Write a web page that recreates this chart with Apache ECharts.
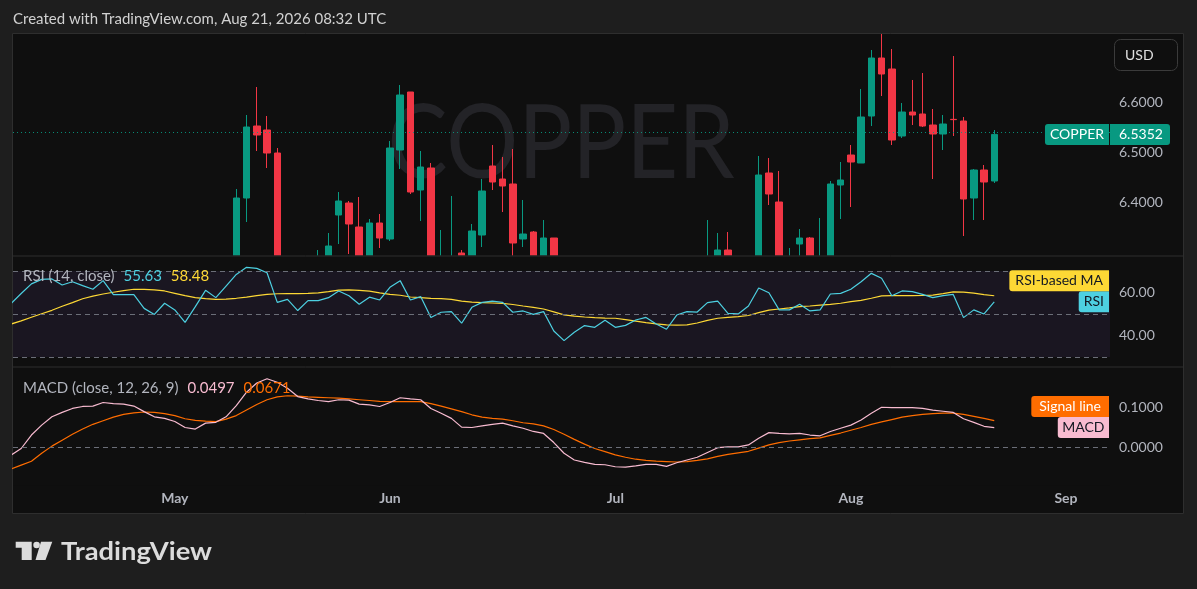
<!DOCTYPE html>
<html><head><meta charset="utf-8">
<script src="https://cdn.jsdelivr.net/npm/echarts@6.0.0/dist/echarts.min.js"></script>
<style>html,body{margin:0;padding:0;background:#1e1e1e;}#c{width:1197px;height:589px;}</style>
</head><body><div id="c"></div><script>
// ---------- data ----------
const symbolName = 'COPPER';
const currency = 'USD';
const headerText = 'Created with TradingView.com, Aug 21, 2026 08:32 UTC';
const dates = [
'2026-04-09','2026-04-10','2026-04-13','2026-04-14','2026-04-15','2026-04-16','2026-04-17','2026-04-20','2026-04-21','2026-04-22','2026-04-23','2026-04-24','2026-04-27','2026-04-28','2026-04-29','2026-04-30',
'2026-05-01','2026-05-04','2026-05-05','2026-05-06','2026-05-07','2026-05-08','2026-05-11','2026-05-12','2026-05-13','2026-05-14','2026-05-15','2026-05-18','2026-05-19','2026-05-20','2026-05-21','2026-05-22','2026-05-25','2026-05-26','2026-05-27','2026-05-28','2026-05-29',
'2026-06-01','2026-06-02','2026-06-03','2026-06-04','2026-06-05','2026-06-08','2026-06-09','2026-06-10','2026-06-11','2026-06-12','2026-06-15','2026-06-16','2026-06-17','2026-06-18','2026-06-19','2026-06-22','2026-06-23','2026-06-24','2026-06-25','2026-06-26','2026-06-29','2026-06-30',
'2026-07-01','2026-07-02','2026-07-03','2026-07-06','2026-07-07','2026-07-08','2026-07-09','2026-07-10','2026-07-13','2026-07-14','2026-07-15','2026-07-16','2026-07-17','2026-07-20','2026-07-21','2026-07-22','2026-07-23','2026-07-24','2026-07-27','2026-07-28','2026-07-29','2026-07-30','2026-07-31',
'2026-08-03','2026-08-04','2026-08-05','2026-08-06','2026-08-07','2026-08-10','2026-08-11','2026-08-12','2026-08-13','2026-08-14','2026-08-17','2026-08-18','2026-08-19','2026-08-20','2026-08-21','2026-08-24','2026-08-25','2026-08-26','2026-08-27','2026-08-28','2026-08-31',
'2026-09-01','2026-09-02','2026-09-03','2026-09-04','2026-09-07'
];
// [open, close, low, high]
const candles = [
[6.02,6.06,5.99,6.08],[6.06,6.12,6.04,6.14],[6.12,6.18,6.10,6.20],[6.18,6.21,6.15,6.23],[6.21,6.22,6.18,6.25],
[6.22,6.19,6.16,6.24],[6.19,6.22,6.17,6.24],[6.22,6.20,6.17,6.24],[6.20,6.19,6.16,6.23],[6.19,6.24,6.18,6.26],
[6.24,6.20,6.18,6.26],[6.20,6.20,6.17,6.23],[6.20,6.21,6.17,6.23],[6.21,6.13,6.11,6.22],[6.13,6.10,6.08,6.15],
[6.10,6.16,6.09,6.18],[6.16,6.12,6.10,6.18],[6.12,6.05,6.03,6.13],[6.05,6.13,6.04,6.15],[6.13,6.22,6.12,6.24],
[6.22,6.18,6.16,6.25],[6.18,6.25,6.17,6.27],[6.25,6.408,6.23,6.426],[6.408,6.55,6.36,6.574],[6.552,6.534,6.502,6.63],
[6.544,6.498,6.468,6.572],[6.498,6.28,6.26,6.508],[6.28,6.29,6.25,6.292],[6.29,6.23,6.21,6.292],[6.23,6.275,6.22,6.29],
[6.275,6.285,6.25,6.304],[6.28,6.312,6.26,6.338],[6.374,6.402,6.316,6.42],[6.398,6.356,6.296,6.402],[6.35,6.27,6.25,6.41],
[6.27,6.358,6.26,6.366],[6.358,6.328,6.308,6.376],[6.326,6.508,6.322,6.522],[6.504,6.614,6.466,6.634],[6.62,6.42,6.416,6.62],
[6.424,6.47,6.362,6.502],[6.468,6.27,6.25,6.478],[6.27,6.285,6.24,6.344],[6.275,6.29,6.25,6.412],[6.298,6.22,6.20,6.304],
[6.23,6.342,6.22,6.356],[6.334,6.422,6.31,6.446],[6.472,6.44,6.424,6.514],[6.446,6.432,6.38,6.49],[6.436,6.318,6.28,6.506],
[6.326,6.336,6.31,6.404],[6.34,6.285,6.25,6.342],[6.28,6.328,6.26,6.364],[6.328,6.18,6.16,6.328],[6.18,6.10,6.08,6.20],
[6.10,6.15,6.09,6.17],[6.15,6.19,6.13,6.21],[6.19,6.18,6.15,6.21],[6.18,6.23,6.17,6.25],[6.23,6.17,6.15,6.24],
[6.17,6.19,6.15,6.21],[6.19,6.22,6.18,6.24],[6.22,6.235,6.20,6.25],[6.235,6.19,6.18,6.25],[6.19,6.16,6.14,6.21],
[6.16,6.24,6.15,6.26],[6.24,6.26,6.22,6.28],[6.26,6.258,6.23,6.28],[6.258,6.29,6.24,6.364],[6.29,6.304,6.27,6.338],
[6.304,6.24,6.22,6.34],[6.24,6.238,6.21,6.27],[6.238,6.28,6.22,6.29],[6.28,6.454,6.27,6.492],[6.458,6.416,6.394,6.488],
[6.40,6.28,6.26,6.462],[6.28,6.285,6.25,6.308],[6.316,6.328,6.27,6.346],[6.328,6.275,6.26,6.33],[6.275,6.285,6.25,6.368],
[6.285,6.436,6.28,6.442],[6.434,6.444,6.366,6.48],[6.494,6.48,6.39,6.514],[6.478,6.57,6.478,6.626],[6.572,6.688,6.552,6.704],
[6.688,6.656,6.612,6.736],[6.666,6.524,6.514,6.706],[6.532,6.58,6.528,6.598],[6.58,6.574,6.554,6.644],[6.576,6.552,6.55,6.658],
[6.554,6.536,6.446,6.586],[6.536,6.556,6.504,6.574],[6.5653,6.5647,6.532,6.692],[6.562,6.406,6.332,6.57],[6.408,6.464,6.364,6.466],
[6.464,6.44,6.364,6.474],[6.442,6.5352,6.438,6.544]
];
const rsi = [54.8,
59.5,64.0,66.1,66.3,63.5,65.0,63.2,61.5,65.5,59.0,
59.0,59.0,52.6,49.8,55.0,51.9,46.1,53.4,61.0,57.6,
63.0,68.4,71.7,71.2,69.2,55.4,56.8,51.6,56.2,56.2,
57.6,60.7,58.5,54.5,57.8,56.5,62.4,65.5,56.5,58.1,
48.4,50.8,51.1,45.7,53.1,55.4,56.0,55.4,50.8,51.4,
49.8,51.1,42.1,37.6,41.5,44.6,43.8,47.1,43.8,44.7,
47.2,48.4,45.3,42.9,49.5,51.1,50.9,55.3,56.0,50.3,
50.0,53.7,62.1,59.9,51.9,51.9,54.5,51.4,51.9,59.3,
59.6,61.5,65.0,68.9,66.6,58.5,60.7,60.4,59.1,57.6,
58.5,59.1,48.3,51.9,50.0,55.63];
const rsiMA = [45.3,
46.8,48.5,50.1,51.7,53.6,55.3,57.1,58.3,59.3,60.1,
60.9,61.5,61.4,61.2,60.7,59.6,58.5,57.6,57.1,56.8,
56.9,57.3,57.8,58.5,59.1,59.4,59.5,59.5,59.6,59.8,
60.4,61.1,61.2,61.0,60.6,59.8,59.1,58.7,57.9,57.6,
57.3,57.1,56.8,56.0,55.5,55.3,55.1,54.9,54.4,53.7,
53.1,52.3,51.0,49.6,49.0,48.6,48.3,48.1,48.0,47.4,
46.7,46.0,45.4,44.9,44.8,44.9,45.8,47.0,48.0,48.4,
48.8,49.3,50.6,51.8,52.3,52.8,53.4,53.7,54.1,54.5,
55.0,55.7,56.3,57.3,58.4,58.5,58.5,58.5,58.6,58.8,
59.5,60.3,60.2,59.7,59.0,58.48];
const macd = [-0.020,
-0.003,0.031,0.056,0.077,0.088,0.098,0.103,0.104,0.113,0.110,
0.109,0.104,0.090,0.077,0.073,0.065,0.050,0.046,0.061,0.063,
0.077,0.105,0.139,0.162,0.173,0.164,0.149,0.128,0.122,0.118,
0.115,0.120,0.119,0.109,0.107,0.103,0.113,0.125,0.122,0.120,
0.098,0.086,0.073,0.051,0.050,0.054,0.058,0.061,0.054,0.048,
0.040,0.035,0.012,-0.015,-0.032,-0.038,-0.043,-0.044,-0.049,-0.050,
-0.047,-0.043,-0.043,-0.048,-0.039,-0.032,-0.025,-0.013,-0.001,0.001,
0.001,0.006,0.023,0.037,0.035,0.034,0.035,0.031,0.029,0.040,
0.048,0.056,0.069,0.086,0.101,0.100,0.100,0.100,0.098,0.094,
0.091,0.088,0.072,0.063,0.053,0.0497];
const signal = [-0.055,
-0.045,-0.035,-0.015,0.003,0.018,0.033,0.046,0.058,0.067,0.076,
0.083,0.087,0.089,0.088,0.085,0.080,0.072,0.068,0.066,0.065,
0.071,0.080,0.094,0.108,0.120,0.127,0.130,0.129,0.127,0.126,
0.125,0.124,0.122,0.120,0.118,0.116,0.115,0.115,0.115,0.115,
0.110,0.104,0.097,0.090,0.082,0.076,0.073,0.071,0.067,0.062,
0.059,0.054,0.045,0.033,0.020,0.008,-0.003,-0.011,-0.019,-0.025,
-0.030,-0.033,-0.035,-0.036,-0.037,-0.036,-0.033,-0.029,-0.023,-0.018,
-0.014,-0.010,-0.002,0.006,0.012,0.016,0.019,0.022,0.024,0.030,
0.036,0.043,0.050,0.058,0.064,0.070,0.076,0.080,0.083,0.085,
0.086,0.086,0.083,0.078,0.073,0.0671];
const monthStarts = ['2026-05-01','2026-06-01','2026-07-01','2026-08-03','2026-09-01'];
const monthLabels = ['May','Jun','Jul','Aug','Sep'];
const priceTicks = [6.4, 6.5, 6.6];
const rsiTicks = [40, 60];
const rsiLevels = [70, 50, 30];
const macdTicks = [0, 0.1];

// ---------- styles ----------
const UP = '#089981', DOWN = '#F23645';
const C_RSI = '#4DD0E1', C_MA = '#FDD835', C_MACD = '#F8BBD0', C_SIG = '#FF6D00';
const FONT = 'Lato, "Noto Sans", sans-serif';
const AX = '#b2b5be';
const ctx = document.createElement('canvas').getContext('2d');
function tw(t, font){ ctx.font = font; return ctx.measureText(t).width; }

const xMin = 0.2, xMax = 107.3;
const grids = [
  {left:13, top:34, width:1097, height:221},
  {left:13, top:257, width:1097, height:109},
  {left:13, top:368, width:1097, height:117}
];
const tickIdx = monthStarts.map(d => dates.indexOf(d));
function yAx(g, min, max, ticks, dec){
  return {type:'value', gridIndex:g, position:'right', min, max,
    splitLine:{show:false}, axisLine:{show:false}, axisTick:{show:false},
    axisLabel:{customValues: ticks, formatter: v => Number(v).toFixed(dec), color:AX, fontSize:14, fontFamily:FONT, margin:9}};
}
function xAx(g, showLabels){
  return {type:'value', gridIndex:g, min:xMin, max:xMax, splitLine:{show:false},
    axisLine:{show:false}, axisTick:{show:false},
    axisLabel: showLabels ? {customValues: tickIdx, formatter: v => monthLabels[tickIdx.indexOf(Math.round(v))] || '',
      color:AX, fontSize:14, fontWeight:'bold', fontFamily:FONT, margin:6} : {show:false}};
}
const dash = {color:'#6b6e78', type:[5,4], width:1};
const lastClose = candles[candles.length-1][1];

const option = {
  backgroundColor:'#1e1e1e',
  animation:false,
  grid: grids,
  xAxis:[xAx(0,false), xAx(1,false), xAx(2,true)],
  yAxis:[yAx(0, 6.294, 6.736, priceTicks, 4), yAx(1, 25.8, 76.5, rsiTicks, 2), yAx(2, -0.095, 0.2, macdTicks, 4)],
  series:[
    {type:'candlestick', xAxisIndex:0, yAxisIndex:0, clip:true, barWidth:7, z:1,
      data: candles.map((c,j)=>[j, c[0], c[1], c[2], c[3]]),
      itemStyle:{color:UP, color0:DOWN, borderColor:UP, borderColor0:DOWN, borderWidth:1},
      markLine:{silent:true, symbol:['none','none'], label:{show:false}, z:5,
        lineStyle:{color:UP, type:[1,3], width:1, opacity:0.9}, data:[{yAxis:lastClose}]}
    },
    {type:'line', xAxisIndex:1, yAxisIndex:1, symbol:'none', data: rsi.map((v,j)=>[j,v]),
      lineStyle:{color:C_RSI, width:1.2}, z:4,
      markArea:{silent:true, z:3, itemStyle:{color:'rgba(126,87,194,0.1)'}, data:[[{yAxis:rsiLevels[0]},{yAxis:rsiLevels[2]}]]},
      markLine:{silent:true, z:5, symbol:['none','none'], label:{show:false}, lineStyle:dash, data: rsiLevels.map(v=>({yAxis:v}))}
    },
    {type:'line', xAxisIndex:1, yAxisIndex:1, symbol:'none', data: rsiMA.map((v,j)=>[j,v]), lineStyle:{color:C_MA, width:1.2}, z:3},
    {type:'line', xAxisIndex:2, yAxisIndex:2, symbol:'none', data: macd.map((v,j)=>[j,v]), lineStyle:{color:C_MACD, width:1.2}, z:4,
      markLine:{silent:true, z:5, symbol:['none','none'], label:{show:false}, lineStyle:dash, data:[{yAxis:0}]}
    },
    {type:'line', xAxisIndex:2, yAxisIndex:2, symbol:'none', data: signal.map((v,j)=>[j,v]), lineStyle:{color:C_SIG, width:1.2}, z:3}
  ]
};
const chart = echarts.init(document.getElementById('c'));
chart.setOption(option);

// ---------- decorations ----------
const yPix = (g, v) => chart.convertToPixel({gridIndex:g}, [xMin, v])[1];
const gRight = 1110;
const g = [];
// frame
g.push({type:'rect', shape:{x:12.5, y:33.5, width:1171, height:480}, style:{fill:'#0f0f0f', stroke:'#2e2e2e', lineWidth:1}, z:-10});
// mask: price pane content stays inside its own pane
g.push({type:'rect', shape:{x:13, y:255.5, width:1097, height:230}, style:{fill:'#0f0f0f'}, z:1.5});
g.push({type:'line', shape:{x1:13, y1:256, x2:1183, y2:256}, style:{stroke:'#2e2e2e', lineWidth:1}, z:3});
g.push({type:'line', shape:{x1:13, y1:367, x2:1183, y2:367}, style:{stroke:'#2e2e2e', lineWidth:1}, z:3});
// header
g.push({type:'text', x:13, y:19, style:{text:headerText, fill:'#d1d1d1', font:'15px '+FONT, verticalAlign:'middle'}, z:5});
// watermark
const wmFont = '103px ' + FONT;
g.push({type:'text', x:561, y:145, scaleX: 347/tw(symbolName, wmFont), style:{text:symbolName, fill:'#232327', font:wmFont, align:'center', verticalAlign:'middle'}, z:-5});
// USD box
g.push({type:'rect', shape:{x:1114.5, y:39.5, width:63, height:31, r:6}, style:{fill:'#0f0f0f', stroke:'#3b3b3b', lineWidth:1}, z:5});
g.push({type:'text', x:1125, y:55, style:{text:currency, fill:'#e0e0e0', font:'14px '+FONT, verticalAlign:'middle'}, z:6});
// price tag
const py = yPix(0, lastClose);
const cw = tw(symbolName, '14px '+FONT) + 10;
g.push({type:'rect', shape:{x:gRight-1-cw, y:py-10.5, width:cw, height:21, r:[3,0,0,3]}, style:{fill:UP}, z:20});
g.push({type:'text', x:gRight-1-cw/2, y:py, style:{text:symbolName, fill:'#ffffff', font:'14px '+FONT, align:'center', verticalAlign:'middle'}, z:21});
g.push({type:'rect', shape:{x:gRight, y:py-10.5, width:60, height:21, r:[0,3,3,0]}, style:{fill:UP}, z:20});
g.push({type:'text', x:1119, y:py, style:{text:lastClose.toFixed(4), fill:'#ffffff', font:'14px '+FONT, verticalAlign:'middle'}, z:21});
// pane tags
function tag(text, cy, bg, fg, pad){
  const w = tw(text, '14px '+FONT) + pad;
  g.push({type:'rect', shape:{x:gRight-1-w, y:cy-10.5, width:w, height:21, r:[3,0,0,3]}, style:{fill:bg}, z:20});
  g.push({type:'text', x:gRight-1-w/2, y:cy, style:{text, fill:fg, font:'14px '+FONT, align:'center', verticalAlign:'middle'}, z:21});
}
const yR = yPix(1, rsi[rsi.length-1]);
const yM = Math.min(yPix(1, rsiMA[rsiMA.length-1]), yR - 21);
tag('RSI', yR, C_RSI, '#131722', 10);
tag('RSI-based MA', yM, C_MA, '#131722', 12);
const yMc = yPix(2, macd[macd.length-1]);
const yS = Math.min(yPix(2, signal[signal.length-1]), yMc - 21);
tag('MACD', yMc, C_MACD, '#131722', 9);
tag('Signal line', yS, C_SIG, '#ffffff', 16);
// pane legends
function legend(y, title, v1, c1, v2, c2){
  g.push({type:'text', x:23, y, z:6, style:{
    text:'{a|'+title+'}{b|'+v1+'}{c|'+v2+'}', font:'15px '+FONT, verticalAlign:'middle',
    rich:{a:{fill:AX, fontSize:15, fontFamily:FONT}, b:{fill:c1, fontSize:15, fontFamily:FONT, padding:[0,0,0,9]}, c:{fill:c2, fontSize:15, fontFamily:FONT, padding:[0,0,0,9]}}}});
}
legend(276, 'RSI (14, close)', rsi[rsi.length-1].toFixed(2), C_RSI, rsiMA[rsiMA.length-1].toFixed(2), C_MA);
legend(388, 'MACD (close, 12, 26, 9)', macd[macd.length-1].toFixed(4), C_MACD, signal[signal.length-1].toFixed(4), C_SIG);
// logo
const LC = '#dcdcdc';
g.push({type:'polygon', shape:{points:[[15.7,541.7],[31.7,541.7],[31.7,560],[21.7,560],[21.7,547.7],[15.7,547.7]]}, style:{fill:LC}, z:5});
g.push({type:'circle', shape:{cx:36.6, cy:545, r:3.3}, style:{fill:LC}, z:5});
g.push({type:'polygon', shape:{points:[[41,541.7],[52.3,541.7],[45.5,560],[35.5,560]]}, style:{fill:LC}, z:5});
const logoFont = 'bold 25px ' + FONT;
g.push({type:'text', x:61, y:551.5, scaleX: 151/tw('TradingView', logoFont), style:{text:'TradingView', fill:LC, font:logoFont, verticalAlign:'middle'}, z:5});
chart.setOption({graphic:{elements:g}});
</script></body></html>
